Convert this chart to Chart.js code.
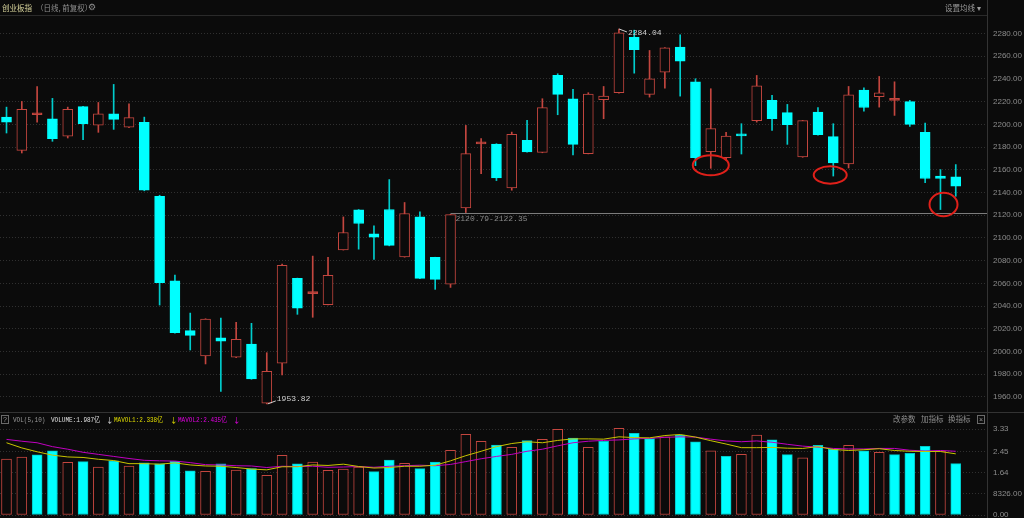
<!DOCTYPE html>
<html>
<head>
<meta charset="utf-8">
<script src="https://cdn.jsdelivr.net/npm/chart.js@4.4.0/dist/chart.umd.min.js"></script>
<style>
html, body { margin: 0; padding: 0; background: #0b0b0b; width: 1024px; height: 518px; overflow: hidden; }
canvas { position: absolute; left: 0; }
#main { top: 0; }
#vol { top: 411px; }
.t { position: absolute; white-space: nowrap; line-height: 10px; font-family: "Noto Sans CJK SC", sans-serif; font-size: 7.5px; color: #8e8e8e; }
.m { font-family: "Liberation Mono", monospace; font-size: 8px; transform: scaleX(.75); transform-origin: 0 50%; }
.hl { position: absolute; height: 1px; background: #2a2a2a; }
.box { position: absolute; border: 1px solid #6a6a6a; width: 6px; height: 7px; font: 7px "Liberation Sans", sans-serif; color: #9a9a9a; text-align: center; line-height: 7px; }
</style>
</head>
<body>
<canvas id="main" width="1024" height="411"></canvas>
<canvas id="vol" width="1024" height="107"></canvas>

<div class="hl" style="left:0;top:15px;width:987px;"></div>
<div class="hl" style="left:0;top:412px;width:1024px;background:#333;"></div>
<div style="position:absolute;left:987px;top:0;width:1px;height:518px;background:#333;"></div>

<div class="t" style="left:2px;top:3px;color:#d8d49c;">创业板指</div>
<div class="t" style="left:36px;top:3px;">（日线, 前复权）</div>
<div class="t" style="left:88px;top:2px;font-family:'DejaVu Sans';font-size:9px;">⚙</div>
<div class="t" style="left:945px;top:3px;color:#9a9a9a;">设置均线 ▾</div>

<div class="box" style="left:1px;top:415px;">?</div>
<div class="t m" style="left:13px;top:415px;color:#9a9a9a;">VOL(5,10)</div>
<div class="t m" style="left:51px;top:415px;color:#e0e0e0;">VOLUME:1.987亿</div>
<div class="t" style="left:106px;top:415px;color:#d0d0d0;">↓</div>
<div class="t m" style="left:114px;top:415px;color:#e0dc00;">MAVOL1:2.338亿</div>
<div class="t" style="left:170px;top:415px;color:#e0dc00;">↓</div>
<div class="t m" style="left:178px;top:415px;color:#e000e0;">MAVOL2:2.435亿</div>
<div class="t" style="left:233px;top:415px;color:#e000e0;">↓</div>
<div class="t" style="left:893px;top:414px;">改参数</div>
<div class="t" style="left:921px;top:414px;">加指标</div>
<div class="t" style="left:948px;top:414px;">换指标</div>
<div class="box" style="left:977px;top:415px;">×</div>

<script>
// daily candles, 63 sessions
const open = [2206.4, 2177.1, 2208.5, 2205.0, 2189.7, 2215.6, 2199.4, 2209.4, 2197.6, 2201.8,
  2136.7, 2062.2, 2018.3, 1996.0, 2011.9, 1994.9, 2006.6, 1954.5, 1989.6, 2064.4,
  2051.0, 2041.1, 2089.5, 2124.7, 2103.6, 2125.0, 2083.3, 2118.5, 2082.8, 2059.3,
  2126.4, 2182.8, 2182.7, 2144.0, 2185.9, 2175.4, 2243.1, 2222.6, 2174.2, 2221.7,
  2227.9, 2276.7, 2226.4, 2246.0, 2268.0, 2237.5, 2176.0, 2170.7, 2190.3, 2203.3,
  2221.1, 2210.3, 2171.3, 2210.8, 2189.2, 2165.1, 2230.2, 2224.4, 2221.2, 2220.0,
  2193.0, 2154.5, 2153.7];
const high = [2215.2, 2220.2, 2233.4, 2222.9, 2215.2, 2216.0, 2219.3, 2235.2, 2218.2, 2206.4,
  2137.6, 2067.3, 2033.8, 2028.8, 2029.5, 2025.7, 2024.8, 1998.9, 2076.9, 2064.6,
  2084.0, 2082.8, 2118.5, 2125.0, 2110.6, 2151.4, 2131.2, 2122.9, 2083.0, 2120.79,
  2199.1, 2187.4, 2183.0, 2193.2, 2203.5, 2222.6, 2244.6, 2230.8, 2227.9, 2233.4,
  2284.04, 2283.0, 2265.1, 2267.6, 2278.9, 2240.2, 2231.4, 2193.0, 2200.6, 2243.1,
  2225.5, 2217.6, 2203.5, 2214.7, 2200.6, 2233.4, 2232.3, 2242.2, 2237.5, 2221.1,
  2201.1, 2160.2, 2164.6];
const low = [2192.4, 2174.8, 2202.0, 2185.1, 2188.0, 2186.5, 2193.0, 2195.6, 2197.0, 2141.5,
  2040.9, 2016.0, 2001.3, 1989.0, 1964.7, 1994.5, 1975.5, 1953.82, 1979.3, 2032.7,
  2030.1, 2041.0, 2089.3, 2090.1, 2081.1, 2093.0, 2083.0, 2064.0, 2054.7, 2056.4,
  2122.35, 2156.7, 2150.5, 2142.0, 2175.5, 2175.0, 2208.5, 2173.0, 2174.0, 2205.0,
  2227.5, 2245.1, 2224.0, 2231.9, 2224.9, 2163.7, 2161.3, 2168.4, 2173.9, 2202.0,
  2194.7, 2182.4, 2171.0, 2190.5, 2154.5, 2161.6, 2211.7, 2215.2, 2207.9, 2198.2,
  2148.7, 2125.0, 2136.7];
const close = [2202.0, 2213.2, 2209.0, 2187.4, 2213.2, 2200.6, 2209.4, 2204.4, 2205.9, 2142.0,
  2060.5, 2016.5, 2014.2, 2028.6, 2009.0, 2010.7, 1975.8, 1982.6, 2075.8, 2038.2,
  2051.5, 2067.0, 2104.8, 2112.7, 2100.7, 2093.4, 2121.5, 2064.4, 2063.5, 2120.5,
  2174.2, 2183.2, 2152.8, 2191.2, 2175.7, 2214.7, 2226.4, 2182.4, 2226.6, 2224.9,
  2280.6, 2265.7, 2240.2, 2267.4, 2255.6, 2170.7, 2196.2, 2189.7, 2189.9, 2234.0,
  2205.0, 2199.7, 2203.3, 2190.9, 2166.0, 2226.1, 2214.9, 2227.9, 2221.6, 2200.0,
  2152.3, 2152.5, 2145.5];
const prevClose = 2198.0; // close before the first visible day (estimated)

// volume in 亿 and its 5 / 10 day averages
const vol = [2.17, 2.24, 2.33, 2.49, 2.04, 2.07, 1.86, 2.10, 1.90, 2.02,
  1.98, 2.08, 1.71, 1.69, 1.98, 1.74, 1.80, 1.54, 2.31, 1.98,
  2.05, 1.73, 1.78, 1.86, 1.68, 2.13, 2.00, 1.80, 2.05, 2.51,
  3.13, 2.86, 2.71, 2.62, 2.88, 2.93, 3.32, 2.98, 2.62, 2.86,
  3.36, 3.17, 2.96, 3.03, 3.10, 2.84, 2.49, 2.27, 2.35, 3.10,
  2.91, 2.34, 2.22, 2.70, 2.55, 2.70, 2.49, 2.43, 2.34, 2.39,
  2.66, 2.48, 1.99];
const ma5 = [2.80, 2.60, 2.45, 2.32, 2.25, 2.23, 2.16, 2.11, 1.99, 1.99,
  1.97, 2.02, 1.94, 1.90, 1.89, 1.84, 1.78, 1.75, 1.87, 1.87,
  1.94, 1.92, 1.97, 1.88, 1.82, 1.84, 1.89, 1.89, 1.93, 2.10,
  2.30, 2.47, 2.65, 2.77, 2.84, 2.80, 2.89, 2.95, 2.95, 2.94,
  3.03, 3.00, 2.99, 3.08, 3.12, 3.02, 2.88, 2.75, 2.61, 2.61,
  2.62, 2.59, 2.58, 2.65, 2.54, 2.50, 2.53, 2.57, 2.50, 2.47,
  2.46, 2.46, 2.37];
const ma10 = [2.93, 2.86, 2.80, 2.65, 2.55, 2.43, 2.35, 2.27, 2.19, 2.12,
  2.10, 2.09, 2.03, 1.95, 1.94, 1.91, 1.90, 1.84, 1.89, 1.88,
  1.89, 1.85, 1.86, 1.88, 1.85, 1.89, 1.91, 1.93, 1.91, 1.96,
  2.07, 2.18, 2.27, 2.35, 2.47, 2.55, 2.68, 2.80, 2.86, 2.89,
  2.91, 2.95, 2.97, 3.01, 3.03, 3.02, 2.94, 2.87, 2.84, 2.87,
  2.82, 2.74, 2.67, 2.63, 2.58, 2.56, 2.56, 2.58, 2.58, 2.51,
  2.48, 2.50, 2.47];

const priceTicks = [1960, 1980, 2000, 2020, 2040, 2060, 2080, 2100, 2120, 2140,
  2160, 2180, 2200, 2220, 2240, 2260, 2280];
const volTicks = [0, 0.8326, 1.64, 2.45, 3.33];
const volTickLabels = ['0.00', '8326.00', '1.64', '2.45', '3.33'];

// marked lows: [day index, price]
const circles = [[46, 2164], [53.8, 2155.4], [61.2, 2129.4]];
const gapIndex = 29, gapLow = 2120.79, gapHigh = 2122.35;
const lowIndex = 17, highIndex = 40;

const BG = '#0b0b0b';
const RED = '#c4463f';
const CYAN = '#00ffff';
const CYAN_WICK = '#00cccc';
const GRID = '#303030';

Chart.defaults.font.family = '"Liberation Sans", sans-serif';
Chart.defaults.font.size = 8;
Chart.defaults.color = '#8c8c8c';

const idx = open.map((_, i) => i);
const isUp = i => close[i] >= open[i];
const isDoji = i => Math.abs(close[i] - open[i]) < 1.5;
const volUp = i => close[i] >= (i === 0 ? prevClose : close[i - 1]);

const xScale = {
  type: 'linear', min: -0.4246, max: 64.04, offset: false,
  display: false, grid: { display: false }
};

function rightAxis(ticks, labels) {
  return {
    position: 'right',
    afterFit: s => { s.width = 37; s.paddingTop = 0; s.paddingBottom = 0; },
    afterBuildTicks: s => { s.ticks = ticks.map(v => ({ value: v })); },
    grid: { color: GRID, drawTicks: false },
    border: { display: false, dash: [1, 2] },
    ticks: {
      autoSkip: false, padding: 6, color: '#8c8c8c',
      callback: (v) => labels ? labels[ticks.indexOf(v)] : v.toFixed(2)
    }
  };
}

const markPlugin = {
  id: 'marks',
  afterDatasetsDraw(chart) {
    const { ctx, chartArea, scales: { x, y } } = chart;
    ctx.save();
    ctx.font = '8px "Liberation Mono", monospace';
    ctx.textBaseline = 'middle';

    // gap line and label
    const gy = Math.round(y.getPixelForValue(gapLow)) - 0.5;
    const gx = x.getPixelForValue(gapIndex);
    ctx.strokeStyle = '#7c7c7c';
    ctx.lineWidth = 1;
    ctx.beginPath(); ctx.moveTo(gx, gy); ctx.lineTo(chartArea.right, gy); ctx.stroke();
    ctx.fillStyle = '#8a8a8a';
    ctx.fillText(gapLow.toFixed(2) + '-' + gapHigh.toFixed(2), gx + 5, gy + 5);

    // period low / high labels
    ctx.fillStyle = '#d0d0d0';
    ctx.strokeStyle = '#d0d0d0';
    const lx = x.getPixelForValue(lowIndex), ly = y.getPixelForValue(low[lowIndex]);
    ctx.beginPath(); ctx.moveTo(lx + 1, ly); ctx.lineTo(lx + 9, ly - 3); ctx.stroke();
    ctx.fillText(low[lowIndex].toFixed(2), lx + 10, ly - 5);
    const hx = x.getPixelForValue(highIndex), hy = y.getPixelForValue(high[highIndex]);
    ctx.beginPath(); ctx.moveTo(hx, hy); ctx.lineTo(hx + 8, hy + 3); ctx.stroke();
    ctx.fillText(high[highIndex].toFixed(2), hx + 9, hy + 4);

    // red rings
    ctx.strokeStyle = '#e0201a';
    ctx.lineWidth = 2;
    const radii = [[18, 10], [16.5, 8.7], [14, 11.7]];
    circles.forEach(([i, p], k) => {
      ctx.beginPath();
      ctx.ellipse(x.getPixelForValue(i), y.getPixelForValue(p), radii[k][0], radii[k][1], 0, 0, Math.PI * 2);
      ctx.stroke();
    });
    ctx.restore();
  }
};

new Chart(document.getElementById('main').getContext('2d'), {
  type: 'bar',
  data: {
    datasets: [{
      label: 'wick',
      data: idx.map(i => ({ x: i, y: [low[i], high[i]] })),
      backgroundColor: idx.map(i => isUp(i) ? RED : CYAN_WICK),
      borderWidth: 0,
      barThickness: 1,
      grouped: false,
      order: 2
    }, {
      label: 'body',
      data: idx.map(i => ({ x: i, y: [open[i], close[i]] })),
      backgroundColor: idx.map(i => isUp(i) ? (isDoji(i) ? RED : BG) : CYAN),
      borderColor: idx.map(i => isUp(i) ? RED : CYAN),
      borderWidth: 1,
      borderSkipped: false,
      barThickness: 10,
      minBarLength: 2,
      grouped: false,
      order: 1
    }]
  },
  options: {
    responsive: false,
    animation: false,
    devicePixelRatio: 1,
    layout: { padding: { top: 18, bottom: 3, left: 0, right: 0 } },
    plugins: { legend: { display: false }, tooltip: { enabled: false } },
    scales: {
      x: xScale,
      y: Object.assign(rightAxis(priceTicks), { min: 1950.2, max: 2293.7 })
    }
  },
  plugins: [markPlugin]
});

new Chart(document.getElementById('vol').getContext('2d'), {
  type: 'bar',
  data: {
    datasets: [{
      type: 'line', label: 'MAVOL1',
      data: idx.map(i => ({ x: i, y: ma5[i] })),
      borderColor: '#c8c400', borderWidth: 1, pointRadius: 0, tension: 0, order: 1
    }, {
      type: 'line', label: 'MAVOL2',
      data: idx.map(i => ({ x: i, y: ma10[i] })),
      borderColor: '#c000c0', borderWidth: 1, pointRadius: 0, tension: 0, order: 2
    }, {
      label: 'VOLUME',
      data: idx.map(i => ({ x: i, y: vol[i] })),
      backgroundColor: idx.map(i => volUp(i) ? BG : CYAN),
      borderColor: idx.map(i => volUp(i) ? RED : '#00c8c8'),
      borderWidth: 1,
      borderSkipped: false,
      barThickness: 10,
      grouped: false,
      order: 3
    }]
  },
  options: {
    responsive: false,
    animation: false,
    devicePixelRatio: 1,
    layout: { padding: { top: 5, bottom: 3, left: 0, right: 0 } },
    plugins: { legend: { display: false }, tooltip: { enabled: false } },
    scales: {
      x: xScale,
      y: Object.assign(rightAxis(volTicks, volTickLabels), { min: 0, max: 3.837 })
    }
  }
});
</script>
</body>
</html>
